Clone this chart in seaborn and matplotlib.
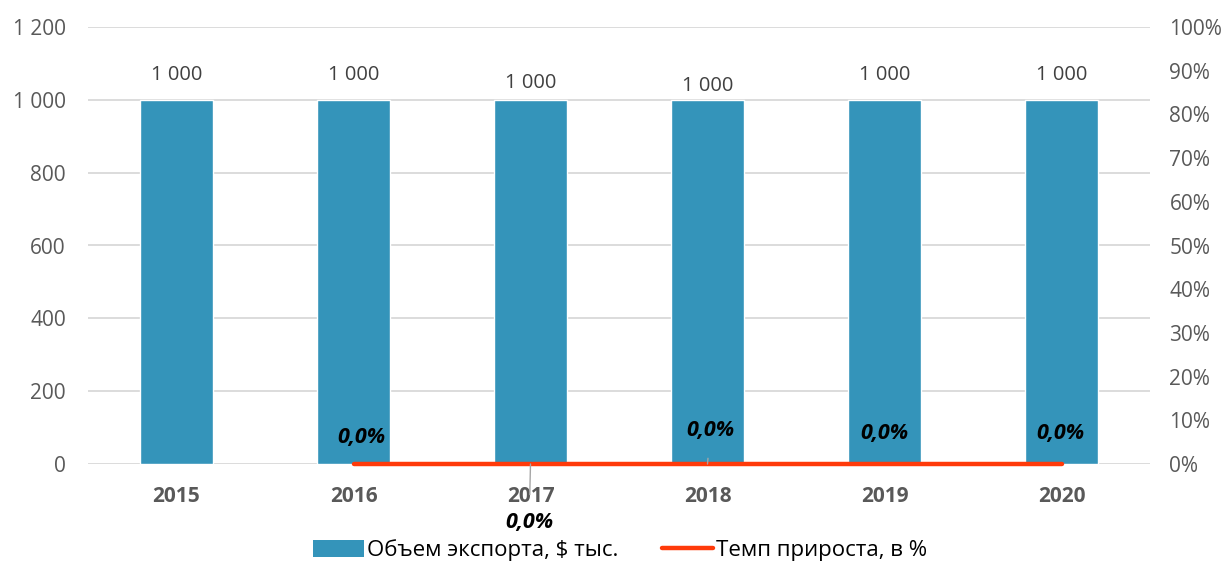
import matplotlib
matplotlib.use("Agg")
import matplotlib.pyplot as plt
import seaborn as sns
import pandas as pd
from matplotlib.patches import Patch
from matplotlib.lines import Line2D

years = ["2015", "2016", "2017", "2018", "2019", "2020"]
export_values = [1000, 1000, 1000, 1000, 1000, 1000]
growth_years = ["2016", "2017", "2018", "2019", "2020"]
growth_pct = [0.0, 0.0, 0.0, 0.0, 0.0]
left_ticks = [0, 200, 400, 600, 800, 1000, 1200]
right_ticks = [i / 100 for i in range(0, 101, 10)]
bar_label = "Объем экспорта, $ тыс."
line_label = "Темп прироста, в %"

sns.set_theme(style="white")
plt.rcParams["font.family"] = ["Open Sans", "DejaVu Sans"]

BAR_C = "#3494BA"
LINE_C = "#FF3A0A"
GREY = "#595959"

fig = plt.figure(figsize=(12.27, 5.62), dpi=100)
ax = fig.add_axes([88 / 1227, 1 - 464 / 562, (1150 - 88) / 1227, (464 - 27) / 562])

df = pd.DataFrame({"year": years, "value": export_values})
sns.barplot(data=df, x="year", y="value", color=BAR_C, width=0.41, ax=ax,
            saturation=1, zorder=2)
ax.set_ylim(0, 1200)
ax.set_yticks(left_ticks)
ax.set_yticklabels([f"{v:,}".replace(",", " ") for v in left_ticks])
ax.set_xlim(-0.5, len(years) - 0.5)
ax.grid(axis="y", color="#D9D9D9", linewidth=1.3, zorder=0)
ax.set_axisbelow(True)
for s in ax.spines.values():
    s.set_visible(False)
ax.set_xlabel("")
ax.set_ylabel("")
ax.tick_params(axis="y", length=0, pad=16, labelsize=15, labelcolor=GREY)
ax.tick_params(axis="x", length=0, pad=16, labelsize=15, labelcolor=GREY)
for lab in ax.get_xticklabels():
    lab.set_fontweight("bold")

# value labels above bars
val_offsets = [18, 18, 12, 10, 18, 18]
for i, (v, off) in enumerate(zip(export_values, val_offsets)):
    ax.annotate(f"{v:,}".replace(",", " "), (i, v), xytext=(0, off),
                textcoords="offset points", ha="center", va="center",
                fontsize=14.5, color="#404040")

ax2 = ax.twinx()
gpos = [years.index(y) for y in growth_years]
gdf = pd.DataFrame({"pos": gpos, "g": growth_pct})
sns.lineplot(data=gdf, x="pos", y="g", color=LINE_C, linewidth=3.2, ax=ax2,
             solid_capstyle="round", zorder=5)
for ln in ax2.get_lines():
    ln.set_clip_on(False)
ax2.set_ylim(0, 1.0)
ax2.set_yticks(right_ticks)
ax2.set_yticklabels([f"{int(round(t * 100))}%" for t in right_ticks])
ax2.tick_params(axis="y", length=0, pad=14, labelsize=15, labelcolor=GREY)
ax2.set_ylabel("")
ax2.set_xlabel("")
ax2.grid(False)
for s in ax2.spines.values():
    s.set_visible(False)
ax2.set_xlim(-0.5, len(years) - 0.5)

# growth labels (offsets in points), some with leader lines
pct_offsets = [(6, 19), (-1, -42), (2, 24), (0, 22), (-1, 22)]
leaders = [False, True, True, False, False]
for p, g, (dx, dy), lead in zip(gpos, growth_pct, pct_offsets, leaders):
    txt = f"{g * 100:.1f}%".replace(".", ",")
    ax2.annotate(txt, (p, g), xytext=(dx, dy), textcoords="offset points",
                 ha="center", va="center", fontsize=15.5, fontweight="bold",
                 fontstyle="italic", color="black", zorder=6,
                 arrowprops=dict(arrowstyle="-", color="#A6A6A6", lw=1.0,
                                 shrinkA=10, shrinkB=0) if lead else None)

handles = [Patch(facecolor=BAR_C, edgecolor="none"),
           Line2D([0], [0], color=LINE_C, linewidth=3.2, solid_capstyle="round")]
fig.legend(handles, [bar_label, line_label], loc="center",
           bbox_to_anchor=(620 / 1227, 1 - 550 / 562), ncol=2, frameon=False,
           fontsize=16, handlelength=2.3, handleheight=0.8, handletextpad=0.1,
           columnspacing=2.0, labelcolor="black", borderpad=0.2)

fig.savefig("out.png", dpi=100)
